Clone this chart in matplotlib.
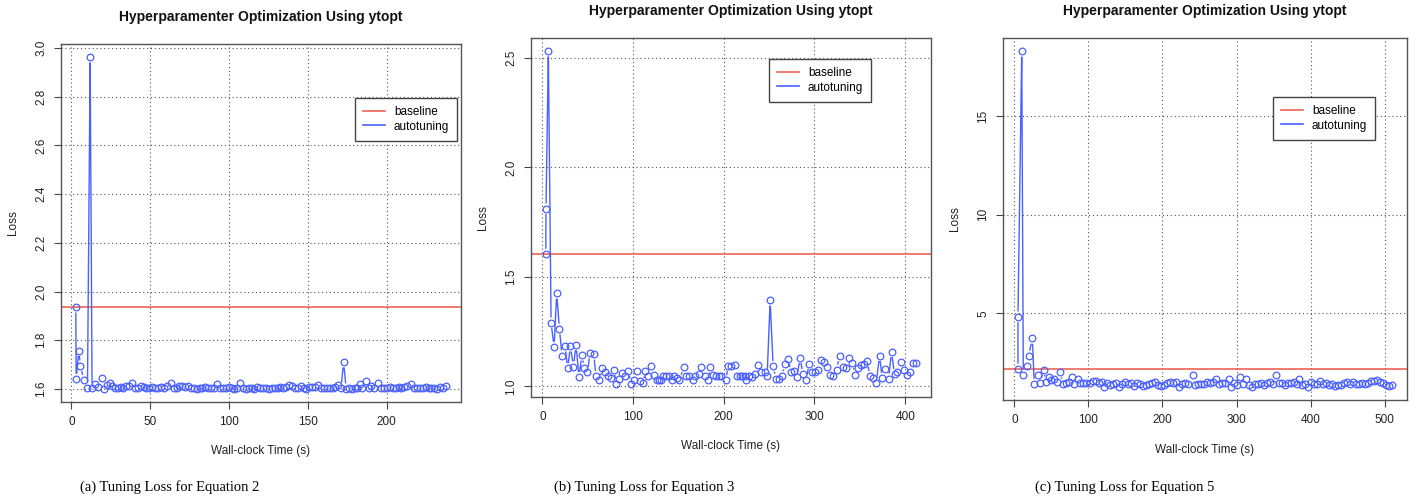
import numpy as np
import matplotlib
matplotlib.use("Agg")
import matplotlib.pyplot as plt
from matplotlib.lines import Line2D

plt.rcParams['font.family'] = ['Liberation Sans', 'DejaVu Sans']

# ---- Equation 2 ----
a_time = [2.8, 3.0, 4.7, 5.7, 8.0, 10.2, 11.9, 13.1, 15.2, 16.9,
          19.1, 20.8, 22.5, 24.2, 25.9, 27.6, 29.4, 31.2, 33.0, 34.9,
          36.7, 38.6, 40.3, 42.1, 44.0, 45.8, 47.6, 49.4, 51.3, 53.1,
          54.9, 56.8, 58.6, 60.4, 63.0, 64.8, 66.7, 68.5, 70.3, 72.1,
          74.0, 75.8, 77.6, 79.5, 81.3, 83.1, 85.0, 86.8, 88.6, 90.4,
          92.4, 94.2, 96.1, 97.9, 99.7, 101.6, 103.4, 105.2, 106.9, 108.8,
          110.6, 112.5, 114.3, 116.1, 118.0, 119.8, 121.6, 123.5, 125.3, 127.1,
          129.0, 130.8, 132.6, 134.5, 136.3, 138.1, 140.0, 141.8, 143.6, 145.5,
          147.3, 149.1, 151.0, 152.8, 154.6, 156.5, 158.3, 160.1, 162.0, 163.8,
          165.6, 167.5, 169.3, 171.0, 172.6, 174.3, 176.1, 178.0, 179.8, 181.4,
          182.8, 184.6, 186.8, 188.5, 190.3, 192.0, 194.7, 196.5, 198.3, 200.2,
          202.0, 203.8, 205.7, 207.5, 209.3, 211.2, 213.0, 215.5, 217.3, 219.1,
          221.0, 222.8, 224.6, 226.5, 228.3, 230.1, 232.0, 233.8, 235.6, 237.7]
a_loss = [1.936, 1.641, 1.758, 1.695, 1.637, 1.605, 2.962, 1.603, 1.620, 1.608,
          1.647, 1.601, 1.618, 1.623, 1.612, 1.606, 1.604, 1.607, 1.603, 1.611,
          1.614, 1.626, 1.604, 1.606, 1.613, 1.608, 1.603, 1.605, 1.609, 1.602,
          1.604, 1.608, 1.605, 1.612, 1.626, 1.604, 1.603, 1.613, 1.614, 1.610,
          1.614, 1.606, 1.602, 1.601, 1.604, 1.602, 1.607, 1.605, 1.603, 1.606,
          1.620, 1.602, 1.606, 1.603, 1.608, 1.605, 1.601, 1.603, 1.626, 1.602,
          1.601, 1.603, 1.602, 1.601, 1.608, 1.604, 1.602, 1.605, 1.601, 1.603,
          1.606, 1.602, 1.608, 1.603, 1.610, 1.615, 1.613, 1.604, 1.603, 1.612,
          1.605, 1.601, 1.608, 1.610, 1.607, 1.617, 1.603, 1.605, 1.602, 1.606,
          1.603, 1.608, 1.618, 1.604, 1.710, 1.601, 1.603, 1.601, 1.604, 1.603,
          1.621, 1.603, 1.631, 1.602, 1.611, 1.605, 1.626, 1.602, 1.604, 1.603,
          1.608, 1.604, 1.606, 1.610, 1.605, 1.609, 1.611, 1.620, 1.604, 1.602,
          1.606, 1.603, 1.608, 1.605, 1.603, 1.602, 1.601, 1.610, 1.604, 1.613]
a_baseline = 1.936

# ---- Equation 3 ----
b_time = [3.8, 4.0, 6.6, 9.6, 12.9, 15.8, 18.8, 21.7, 25.0, 27.9,
          30.9, 34.2, 37.1, 40.4, 43.4, 46.3, 49.6, 52.6, 56.6, 59.2,
          62.5, 66.2, 68.8, 72.1, 75.4, 78.7, 81.6, 84.9, 87.9, 91.2,
          94.5, 97.8, 100.7, 104.0, 107.4, 110.7, 113.6, 116.9, 119.9, 123.2,
          126.5, 129.0, 131.3, 133.5, 136.4, 139.3, 142.6, 145.6, 148.5, 151.1,
          155.9, 158.8, 161.8, 165.8, 168.8, 172.4, 175.4, 179.4, 182.4, 185.3,
          188.2, 191.9, 194.9, 197.1, 202.2, 204.8, 208.1, 212.1, 214.3, 217.6,
          220.6, 223.2, 224.6, 227.9, 231.3, 234.9, 237.9, 241.2, 244.9, 247.8,
          251.1, 254.4, 257.4, 260.7, 264.0, 267.3, 271.0, 273.9, 277.2, 280.5,
          284.2, 287.1, 290.8, 294.1, 297.1, 300.4, 303.7, 307.0, 311.0, 314.0,
          317.3, 320.6, 324.3, 327.6, 330.9, 334.9, 337.9, 341.5, 344.9, 348.2,
          351.1, 354.4, 358.1, 361.0, 364.7, 368.0, 371.7, 374.6, 377.9, 381.6,
          384.9, 388.2, 391.5, 395.2, 398.5, 402.2, 405.5, 408.8, 412.1]
b_loss = [1.604, 1.811, 2.530, 1.290, 1.180, 1.424, 1.262, 1.140, 1.183, 1.082,
          1.183, 1.090, 1.189, 1.041, 1.142, 1.084, 1.064, 1.152, 1.146, 1.046,
          1.027, 1.082, 1.066, 1.046, 1.037, 1.076, 1.012, 1.035, 1.063, 1.049,
          1.072, 1.012, 1.030, 1.072, 1.024, 1.015, 1.069, 1.046, 1.095, 1.053,
          1.027, 1.027, 1.027, 1.046, 1.046, 1.046, 1.027, 1.046, 1.038, 1.030,
          1.088, 1.046, 1.046, 1.027, 1.046, 1.058, 1.088, 1.046, 1.027, 1.087,
          1.053, 1.046, 1.046, 1.049, 1.027, 1.095, 1.091, 1.099, 1.049, 1.049,
          1.046, 1.046, 1.030, 1.046, 1.043, 1.058, 1.098, 1.067, 1.067, 1.049,
          1.392, 1.091, 1.034, 1.034, 1.046, 1.101, 1.127, 1.064, 1.069, 1.041,
          1.131, 1.055, 1.029, 1.104, 1.064, 1.064, 1.076, 1.120, 1.113, 1.088,
          1.053, 1.049, 1.076, 1.139, 1.087, 1.084, 1.131, 1.107, 1.053, 1.082,
          1.099, 1.101, 1.114, 1.046, 1.038, 1.015, 1.140, 1.038, 1.079, 1.034,
          1.157, 1.055, 1.067, 1.110, 1.075, 1.052, 1.067, 1.108, 1.108]
b_baseline = 1.604

# ---- Equation 5 ----
c_time = [4.9, 4.9, 10.0, 12.1, 17.1, 19.3, 24.3, 27.0, 31.9, 34.6,
          39.6, 42.7, 46.3, 49.5, 53.5, 57.1, 62.1, 65.2, 69.3, 73.3,
          77.4, 81.0, 85.5, 89.1, 93.1, 97.2, 101.6, 105.7, 109.7, 113.8,
          117.8, 121.4, 125.5, 129.5, 133.6, 137.6, 141.7, 145.7, 149.8, 153.4,
          157.4, 161.5, 165.5, 169.6, 173.6, 177.7, 181.7, 185.8, 189.8, 193.9,
          197.9, 202.0, 206.0, 210.0, 214.1, 218.1, 222.2, 226.2, 230.3, 234.3,
          241.1, 244.2, 248.3, 252.3, 256.4, 260.4, 264.5, 268.5, 272.6, 276.6,
          280.7, 284.7, 289.2, 292.4, 296.4, 300.5, 304.5, 308.6, 312.6, 316.6,
          320.7, 324.7, 328.8, 332.8, 336.9, 340.9, 345.0, 349.0, 353.1, 357.1,
          361.2, 365.2, 369.3, 373.3, 377.4, 381.4, 385.0, 389.1, 393.1, 397.2,
          401.2, 405.3, 409.3, 413.4, 417.4, 421.4, 425.5, 429.5, 433.6, 437.6,
          441.7, 445.7, 449.8, 453.8, 457.9, 461.9, 466.0, 470.0, 474.1, 478.1,
          482.2, 486.2, 490.3, 494.3, 498.4, 502.4, 506.0, 510.0]
c_loss = [2.18, 4.83, 18.29, 1.90, 2.32, 2.85, 3.73, 1.41, 1.86, 1.47,
          2.15, 1.54, 1.80, 1.63, 1.66, 1.54, 2.02, 1.42, 1.47, 1.54,
          1.76, 1.42, 1.69, 1.46, 1.46, 1.49, 1.46, 1.59, 1.59, 1.46,
          1.54, 1.29, 1.46, 1.36, 1.42, 1.49, 1.29, 1.42, 1.53, 1.42,
          1.46, 1.32, 1.46, 1.42, 1.32, 1.36, 1.42, 1.46, 1.53, 1.36,
          1.32, 1.39, 1.46, 1.53, 1.46, 1.53, 1.29, 1.42, 1.46, 1.42,
          1.90, 1.36, 1.42, 1.42, 1.42, 1.53, 1.46, 1.53, 1.69, 1.42,
          1.46, 1.46, 1.69, 1.29, 1.46, 1.39, 1.78, 1.42, 1.69, 1.36,
          1.29, 1.42, 1.42, 1.46, 1.39, 1.46, 1.53, 1.42, 1.86, 1.46,
          1.46, 1.36, 1.49, 1.46, 1.53, 1.42, 1.66, 1.36, 1.42, 1.29,
          1.53, 1.42, 1.42, 1.56, 1.42, 1.46, 1.36, 1.42, 1.32, 1.36,
          1.39, 1.46, 1.53, 1.42, 1.53, 1.42, 1.42, 1.46, 1.42, 1.49,
          1.59, 1.56, 1.63, 1.53, 1.46, 1.36, 1.32, 1.39]
c_baseline = 2.18

titles = ["Hyperparamenter Optimization Using ytopt"] * 3
captions = ["(a) Tuning Loss for Equation 2",
            "(b) Tuning Loss for Equation 3",
            "(c) Tuning Loss for Equation 5"]
x_ticks = [np.arange(0, 201, 50), np.arange(0, 401, 100), np.arange(0, 501, 100)]
y_ticks = [np.arange(1.6, 3.01, 0.2), np.arange(1.0, 2.51, 0.5), [5, 10, 15]]
y_fmt = ["%.1f", "%.1f", "%.0f"]

RED = '#EE6257'
BLUE = '#4A60FF'
W, H = 1421, 504

fig = plt.figure(figsize=(W / 100, H / 100), dpi=100)

# axes boxes in pixels: left, top, right, bottom
boxes = [(61, 44, 461, 402), (531, 38, 931, 397), (1003, 38, 1407, 400)]
title_y = [17, 11, 11]
xlabel_y = [451, 446, 450]
legend_pos = [(355, 98), (769, 59), (1273, 97)]
caption_x = [170, 644, 1125]


def r_range(v):
    # R-style axis range: data range padded by 4% on each side
    lo, hi = min(v), max(v)
    pad = 0.04 * (hi - lo)
    return lo - pad, hi + pad


def draw_type_b(ax, t, v, color, gap=6.0):
    # lines between points that stop short of each point, like plot(type="b")
    pts = ax.transData.transform(np.column_stack([t, v]))
    inv = ax.transData.inverted()
    xs, ys = [], []
    for p, q in zip(pts[:-1], pts[1:]):
        d = q - p
        L = np.hypot(d[0], d[1])
        if L <= 2 * gap:
            continue
        u = d / L
        seg = inv.transform(np.array([p + u * gap, q - u * gap]))
        xs += [seg[0, 0], seg[1, 0], np.nan]
        ys += [seg[0, 1], seg[1, 1], np.nan]
    ax.plot(xs, ys, color=color, lw=1.0, zorder=3)
    ax.plot(t, v, 'o', mfc='none', mec=color, ms=4.8, mew=0.9, zorder=4)


series = [(a_time, a_loss, a_baseline), (b_time, b_loss, b_baseline),
          (c_time, c_loss, c_baseline)]

for i, (t, v, base) in enumerate(series):
    l, tp, r, b = boxes[i]
    ax = fig.add_axes([l / W, 1 - b / H, (r - l) / W, (b - tp) / H])
    ax.set_xlim(*r_range(t))
    ax.set_ylim(*r_range(v))
    ax.set_xticks(x_ticks[i])
    ax.set_yticks(y_ticks[i])
    ax.set_yticklabels([y_fmt[i] % y for y in y_ticks[i]])
    ax.grid(True, color='#555555', linestyle=(0, (1, 2.5)), lw=0.8, zorder=1)
    for s in ax.spines.values():
        s.set_color('#555555')
        s.set_linewidth(1.0)
    ax.tick_params(length=5, width=0.8, color='#444444', labelsize=8.5,
                   labelcolor='#222222', pad=5)
    ax.tick_params(axis='y', labelrotation=90)
    for lb in ax.get_yticklabels():
        lb.set_va('center')

    ax.axhline(base, color=RED, lw=1.2, zorder=2)
    draw_type_b(ax, t, v, BLUE)

    handles = [Line2D([], [], color=RED, lw=1.2), Line2D([], [], color=BLUE, lw=1.2)]
    lx, ly = legend_pos[i]
    leg = ax.legend(handles, ['baseline', 'autotuning'], loc='upper left',
                    bbox_to_anchor=(lx / W, 1 - ly / H), bbox_transform=fig.transFigure,
                    fancybox=False, framealpha=1, edgecolor='#444444', fontsize=8.5,
                    handlelength=1.8, handletextpad=0.8, borderpad=0.7,
                    labelspacing=0.2, borderaxespad=0)
    leg.get_frame().set_linewidth(1.0)

    cx = (l + r) / 2
    fig.text(cx / W, 1 - title_y[i] / H, titles[i], ha='center', va='center',
             fontsize=10, fontweight='bold', color='#111111')
    fig.text(cx / W, 1 - xlabel_y[i] / H, 'Wall-clock Time (s)', ha='center',
             va='center', fontsize=8.5, color='#222222')
    fig.text((l - 48) / W, 1 - ((tp + b) / 2) / H, 'Loss', ha='center',
             va='center', rotation=90, fontsize=8.5, color='#222222')
    fig.text(caption_x[i] / W, 1 - 487 / H, captions[i], ha='center',
             va='center', fontsize=10.5, family=['Liberation Serif', 'DejaVu Serif'])

fig.savefig('out.png', dpi=100)
